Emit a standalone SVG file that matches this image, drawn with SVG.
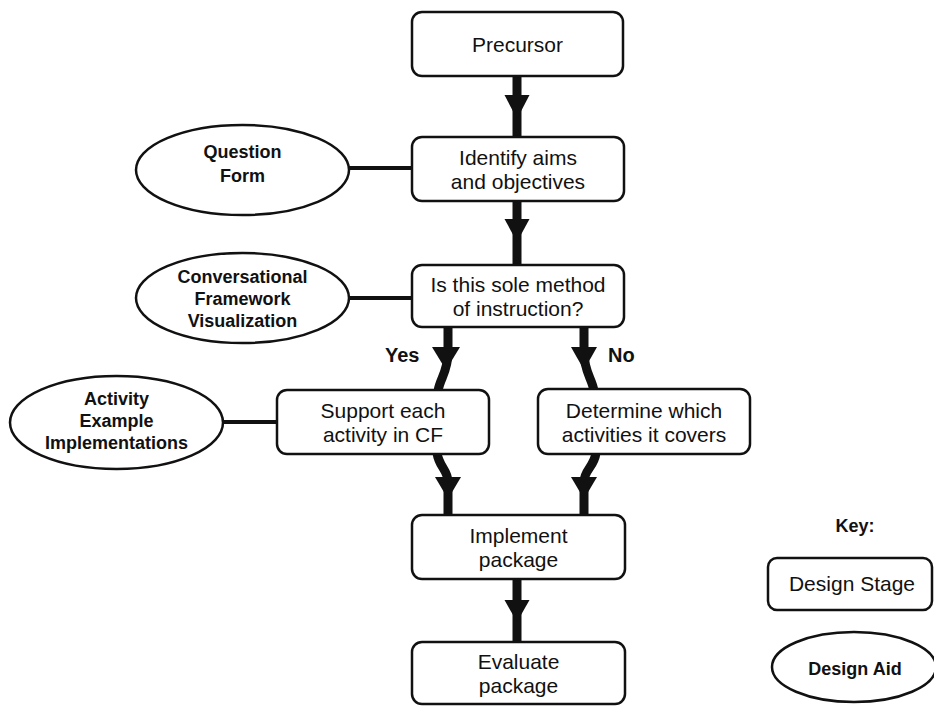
<svg xmlns="http://www.w3.org/2000/svg" width="934" height="706" viewBox="0 0 934 706">
  <style>
    .stage { fill: #fff; stroke: #111; stroke-width: 2.5; }
    .aid { fill: #fff; stroke: #111; stroke-width: 2.5; }
    .t { font-family: "Liberation Sans", Arial, Helvetica, sans-serif; font-size: 21px; fill: #111; text-anchor: middle; }
    .b { font-family: "Liberation Sans", Arial, Helvetica, sans-serif; font-size: 18px; font-weight: bold; fill: #111; text-anchor: middle; }
    .lbl { font-family: "Liberation Sans", Arial, Helvetica, sans-serif; font-size: 20px; font-weight: bold; fill: #111; }
    .link { stroke: #111; stroke-width: 4; fill: none; }
    .flow { stroke: #111; stroke-width: 9; fill: none; }
    .head { fill: #111; }
  </style>

  <!-- connectors -->
  <g id="connectors">
    <!-- design aid links -->
    <line class="link" x1="349" y1="168" x2="412" y2="168"/>
    <line class="link" x1="349" y1="298" x2="412" y2="298"/>
    <line class="link" x1="223" y1="422" x2="277" y2="422"/>

    <!-- straight flow arrows -->
    <line class="flow" x1="517" y1="76" x2="517" y2="137"/>
    <polygon class="head" points="504.5,95 529.5,95 517,119"/>
    <line class="flow" x1="517" y1="201" x2="517" y2="265"/>
    <polygon class="head" points="504.5,219 529.5,219 517,242"/>
    <line class="flow" x1="517" y1="579" x2="517" y2="642"/>
    <polygon class="head" points="504.5,600 529.5,600 517,622"/>

    <!-- Yes branch -->
    <path class="flow" d="M448,327 L448,352 C448,372 440,378 438,391"/>
    <polygon class="head" points="432,347 460,347 446,370"/>
    <!-- No branch -->
    <path class="flow" d="M584,327 L584,352 C584,372 592,378 594,391"/>
    <polygon class="head" points="571,347 597,347 584,370"/>

    <!-- merge into Implement -->
    <path class="flow" d="M437,453 C439,467 448,470 448,482 L448,516"/>
    <polygon class="head" points="435,477 461,477 448,499"/>
    <path class="flow" d="M596,453 C594,467 584,470 584,482 L584,516"/>
    <polygon class="head" points="571,477 597,477 584,499"/>

    <text class="lbl" x="385" y="362">Yes</text>
    <text class="lbl" x="608" y="362">No</text>
  </g>

  <!-- design stages -->
  <g id="precursor">
    <rect class="stage" x="412" y="12" width="211" height="64" rx="10"/>
    <text class="t" x="517.5" y="51.5">Precursor</text>
  </g>
  <g id="identify">
    <rect class="stage" x="412" y="137" width="212" height="64" rx="10"/>
    <text class="t" x="518" y="164.5">Identify aims</text>
    <text class="t" x="518" y="188.5">and objectives</text>
  </g>
  <g id="sole-method">
    <rect class="stage" x="412" y="265" width="212" height="62" rx="10"/>
    <text class="t" x="518" y="292">Is this sole method</text>
    <text class="t" x="518" y="316">of instruction?</text>
  </g>
  <g id="support">
    <rect class="stage" x="277" y="390" width="212" height="64" rx="10"/>
    <text class="t" x="383" y="417.5">Support each</text>
    <text class="t" x="383" y="441.5">activity in CF</text>
  </g>
  <g id="determine">
    <rect class="stage" x="538" y="389" width="212" height="65" rx="10"/>
    <text class="t" x="644" y="417.5">Determine which</text>
    <text class="t" x="644" y="441.5">activities it covers</text>
  </g>
  <g id="implement">
    <rect class="stage" x="412" y="515" width="213" height="64" rx="10"/>
    <text class="t" x="518.5" y="542.5">Implement</text>
    <text class="t" x="518.5" y="566.5">package</text>
  </g>
  <g id="evaluate">
    <rect class="stage" x="412" y="642" width="213" height="62" rx="10"/>
    <text class="t" x="518.5" y="668.5">Evaluate</text>
    <text class="t" x="518.5" y="692.5">package</text>
  </g>

  <!-- design aids -->
  <g id="question-form">
    <ellipse class="aid" cx="242.5" cy="170" rx="106.5" ry="45"/>
    <text class="b" x="242.5" y="158">Question</text>
    <text class="b" x="242.5" y="182">Form</text>
  </g>
  <g id="cf-visualization">
    <ellipse class="aid" cx="242.5" cy="298" rx="106.5" ry="45"/>
    <text class="b" x="242.5" y="283">Conversational</text>
    <text class="b" x="242.5" y="305">Framework</text>
    <text class="b" x="242.5" y="327">Visualization</text>
  </g>
  <g id="activity-examples">
    <ellipse class="aid" cx="116.5" cy="422.5" rx="106.5" ry="46.5"/>
    <text class="b" x="116.5" y="405">Activity</text>
    <text class="b" x="116.5" y="427">Example</text>
    <text class="b" x="116.5" y="449">Implementations</text>
  </g>

  <!-- key -->
  <g id="key">
    <text class="b" x="855" y="532">Key:</text>
    <rect class="stage" x="768" y="558" width="164" height="52" rx="9"/>
    <text class="t" x="852" y="591">Design Stage</text>
    <ellipse class="aid" cx="854" cy="667" rx="82" ry="35"/>
    <text class="b" x="855" y="675">Design Aid</text>
  </g>
</svg>
